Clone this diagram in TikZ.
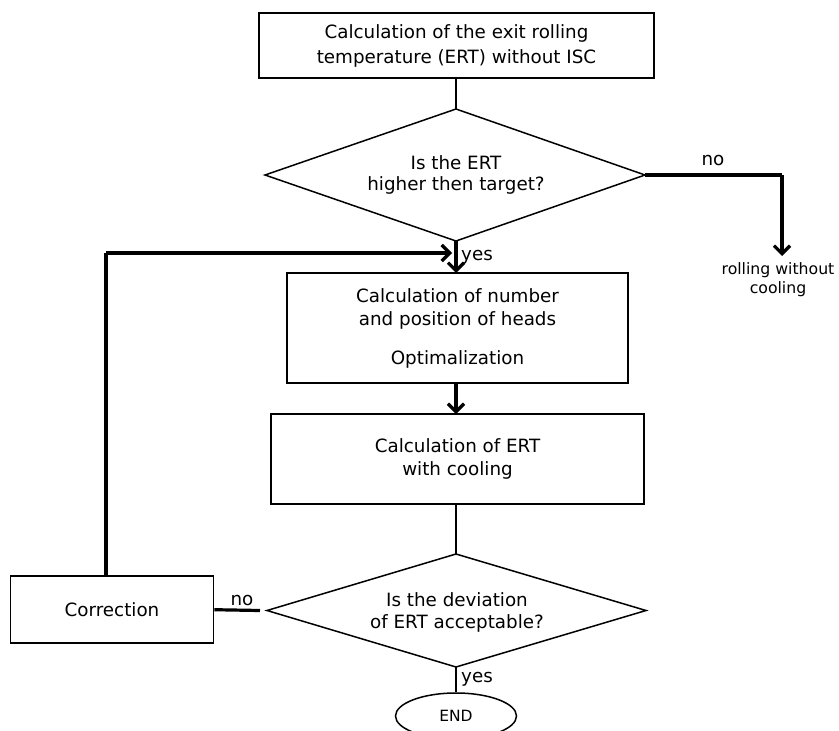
\documentclass[tikz,border=0pt]{standalone}
\usepackage{fontspec}
\setmainfont{DejaVu Sans}
\usetikzlibrary{shapes.geometric,arrows.meta,calc}
\begin{document}
\begin{tikzpicture}[x=1pt,y=-1pt,
  every node/.style={font=\fontsize{18.3pt}{23pt}\selectfont},
  boxnode/.style={draw, line width=1.7pt, inner sep=0pt, align=center},
  decisionline/.style={line width=1.5pt, line join=miter},
  dtext/.style={align=center, inner sep=0pt},
  thinline/.style={line width=1.5pt},
  thickline/.style={line width=3.2pt},
  thickarrow/.style={line width=3.2pt, -{Straight Barb[length=8pt,width=16pt]}},
  lbl/.style={inner sep=0pt}
]
\useasboundingbox (0,0) rectangle (839,731);

\node[boxnode, minimum width=395pt, minimum height=65pt, font=\fontsize{18.3pt}{25pt}\selectfont] (b1) at (456.5,45.5)
  {Calculation of the exit rolling\\temperature (ERT) without ISC};

% decision 1
\coordinate (d1n) at (456,109);
\coordinate (d1e) at (645,175);
\coordinate (d1s) at (456,241);
\coordinate (d1w) at (265,175);
\draw[decisionline] (d1n) -- (d1e) -- (d1s) -- (d1w) -- cycle;
\node[dtext, font=\fontsize{18.3pt}{21pt}\selectfont] (d1) at (456,175) {Is the ERT\\higher then target?};

\node[boxnode, minimum width=341pt, minimum height=110pt] (b2) at (457.5,328)
  {Calculation of number\\and position of heads\\[16pt]Optimalization};
\node[boxnode, minimum width=373pt, minimum height=90pt] (b3) at (457.5,459)
  {Calculation of ERT\\with cooling};

% decision 2
\coordinate (d2n) at (456,554);
\coordinate (d2e) at (646,610.5);
\coordinate (d2s) at (456,667);
\coordinate (d2w) at (267,610.5);
\draw[decisionline] (d2n) -- (d2e) -- (d2s) -- (d2w) -- cycle;
\node[dtext, font=\fontsize{18.3pt}{21.5pt}\selectfont] (d2) at (457,612.5) {Is the deviation\\of ERT acceptable?};

\node[boxnode, minimum width=203pt, minimum height=67pt] (corr) at (112,609.7) {Correction};
\node[ellipse, draw, line width=1.5pt, minimum width=121pt, minimum height=46pt, inner sep=0pt,
  font=\fontsize{15.5pt}{18pt}\selectfont] (end) at (456,716) {END};

\node[align=center, font=\fontsize{15.7pt}{19pt}\selectfont] (rw) at (778,280) {rolling without\\cooling};

\coordinate (nocorner) at (782,175);
\coordinate (noend) at (782,256);
\coordinate (loopstart) at (106,576);
\coordinate (loopcorner) at (106,253);
\coordinate (loopend) at (452,253);
\coordinate (gapend) at (260,610.5);
\coordinate (b2top) at (456,273);
\coordinate (b2bot) at (456,383);
\coordinate (b3top) at (456,414);
\coordinate (b3bot) at (456,504);

% connectors
\draw[thinline] (b1.south -| d1n) -- (d1n);
\draw[thickline] (d1e) -- (nocorner);
\draw[thickarrow] (nocorner) -- (noend);
\draw[thickarrow] (d1s) -- (b2top);
\draw[thickline] (loopstart) -- (loopcorner);
\draw[thickarrow] (loopcorner) -- (loopend);
\draw[thickarrow] (b2bot) -- (b3top);
\draw[thinline] (b3bot) -- (d2n);
\draw[thickline] (corr.east) -- (gapend);
\draw[thinline] (d2s) -- (end.north);

% labels
\node[lbl, anchor=center] (no1) at (713,161) {no};
\node[lbl, anchor=west] (yes1) at (461,257) {yes};
\node[lbl, anchor=center] (no2) at (242,600) {no};
\node[lbl, anchor=west] (yes2) at (461,679) {yes};
\end{tikzpicture}
\end{document}
